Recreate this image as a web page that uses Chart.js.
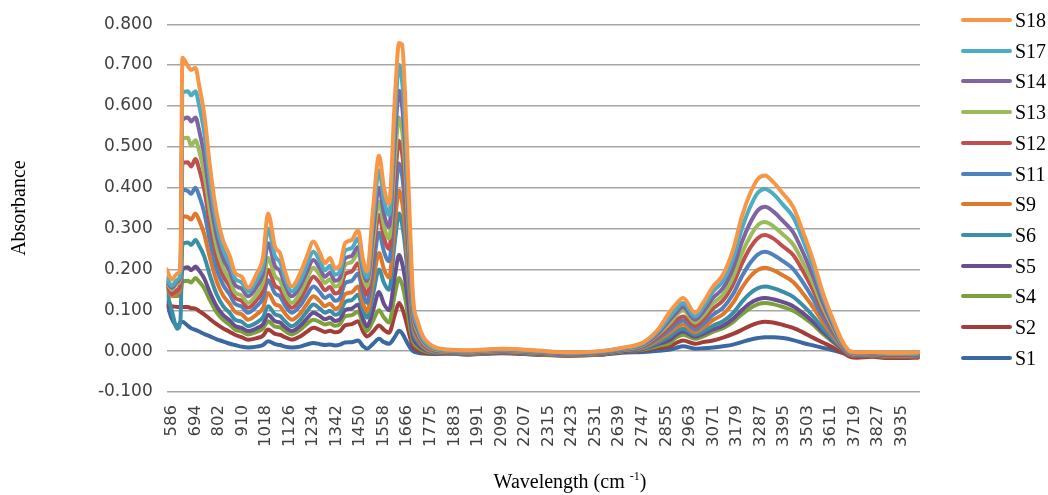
<!DOCTYPE html>
<html><head><meta charset="utf-8">
<script src="https://cdn.jsdelivr.net/npm/chart.js@4.4.1/dist/chart.umd.min.js"></script>
<style>
html,body{margin:0;padding:0;background:#fff;}
#wrap{position:relative;width:1048px;height:495px;overflow:hidden;}
#c{position:absolute;left:0;top:0;}
#xtitle{position:absolute;left:570px;top:469px;transform:translateX(-50%);font-family:"Liberation Serif";font-size:20px;color:#000;white-space:nowrap;}
#xtitle sup{font-size:12px;}
.ln{position:absolute;left:961px;width:51px;height:4px;border-radius:2px;}
.lt{position:absolute;left:1015px;font-family:"Liberation Serif";font-size:20px;line-height:20px;color:#000;}
</style></head>
<body><div id="wrap"><canvas id="c" width="1048" height="495"></canvas>
<div id="xtitle">Wavelength (cm <sup>-1</sup>)</div>
<div id="legend"></div></div>
<script>
const wavenumbers = [563,586,612,626,635,660,675,695,712,735,
 762,792,821,853,876,907,936,976,1005,1028,
 1060,1083,1106,1137,1175,1205,1236,1266,1289,1312,
 1335,1358,1381,1412,1441,1464,1482,1510,1537,1560,
 1583,1610,1629,1643,1657,1680,1693,1716,1739,1785,
 1849,1950,2100,2250,2400,2550,2650,2750,2820,2872,
 2900,2932,2987,3024,3069,3115,3161,3201,3239,3276,
 3308,3345,3391,3437,3482,3528,3574,3620,3666,3698,
 3730,3800,3870,3950,4010];
const xTickLabels = [586,694,802,910,1018,1126,1234,1342,1450,1558,1666,1775,1883,1991,2099,2207,2315,2423,2531,2639,2747,2855,2963,3071,3179,3287,3395,3503,3611,3719,3827,3935];
const yTicks = [-0.1,0,0.1,0.2,0.3,0.4,0.5,0.6,0.7,0.8];

const S18 = [0.200,0.175,0.190,0.205,0.718,0.698,0.688,0.693,0.650,0.580,
 0.450,0.337,0.272,0.232,0.192,0.182,0.155,0.190,0.230,0.337,
 0.255,0.240,0.195,0.158,0.190,0.230,0.268,0.240,0.215,0.228,
 0.203,0.210,0.264,0.272,0.296,0.223,0.195,0.350,0.478,0.400,
 0.360,0.620,0.754,0.750,0.620,0.295,0.133,0.070,0.036,0.012,
 0.004,0.002,0.006,0.002,-0.003,0.000,0.008,0.022,0.055,0.097,
 0.115,0.130,0.094,0.118,0.158,0.187,0.247,0.328,0.385,0.422,
 0.430,0.414,0.385,0.353,0.292,0.223,0.142,0.077,0.021,0.000,
 -0.003,-0.002,-0.004,-0.004,-0.003];
const S17 = [0.180,0.160,0.175,0.190,0.632,0.636,0.626,0.636,0.600,0.535,
 0.415,0.310,0.250,0.213,0.178,0.168,0.146,0.175,0.210,0.300,
 0.232,0.218,0.178,0.146,0.172,0.210,0.243,0.220,0.198,0.209,
 0.187,0.195,0.245,0.252,0.276,0.205,0.180,0.320,0.442,0.370,
 0.333,0.570,0.700,0.660,0.550,0.260,0.118,0.060,0.030,0.009,
 0.003,0.001,0.005,0.001,-0.004,-0.001,0.007,0.019,0.050,0.085,
 0.103,0.118,0.085,0.107,0.145,0.172,0.226,0.298,0.352,0.388,
 0.397,0.385,0.358,0.328,0.272,0.207,0.132,0.070,0.018,-0.002,
 -0.004,-0.003,-0.005,-0.005,-0.004];
const S14 = [0.175,0.155,0.170,0.185,0.565,0.572,0.562,0.572,0.540,0.480,
 0.375,0.283,0.228,0.194,0.162,0.153,0.134,0.158,0.190,0.264,
 0.208,0.196,0.162,0.134,0.158,0.193,0.223,0.202,0.182,0.192,
 0.172,0.180,0.226,0.233,0.255,0.196,0.172,0.290,0.400,0.335,
 0.304,0.520,0.637,0.600,0.500,0.235,0.105,0.052,0.026,0.007,
 0.002,0.000,0.004,0.000,-0.005,-0.002,0.006,0.017,0.045,0.077,
 0.094,0.108,0.077,0.096,0.130,0.154,0.202,0.266,0.313,0.345,
 0.353,0.342,0.318,0.291,0.242,0.184,0.118,0.063,0.016,-0.003,
 -0.005,-0.004,-0.006,-0.006,-0.005];
const S13 = [0.170,0.150,0.165,0.180,0.520,0.522,0.503,0.516,0.490,0.435,
 0.340,0.255,0.205,0.173,0.144,0.136,0.118,0.140,0.168,0.228,
 0.183,0.172,0.142,0.118,0.142,0.175,0.204,0.185,0.167,0.176,
 0.158,0.166,0.210,0.218,0.240,0.180,0.158,0.265,0.365,0.305,
 0.276,0.470,0.572,0.540,0.450,0.210,0.095,0.046,0.022,0.005,
 0.001,-0.001,0.003,-0.001,-0.005,-0.002,0.005,0.015,0.042,0.069,
 0.087,0.100,0.070,0.087,0.117,0.138,0.181,0.238,0.280,0.309,
 0.316,0.306,0.285,0.261,0.217,0.166,0.107,0.057,0.014,-0.004,
 -0.006,-0.005,-0.007,-0.007,-0.006];
const S12 = [0.167,0.140,0.150,0.170,0.460,0.462,0.452,0.470,0.445,0.395,
 0.310,0.232,0.186,0.157,0.131,0.123,0.106,0.125,0.148,0.199,
 0.160,0.152,0.127,0.106,0.127,0.156,0.182,0.166,0.149,0.157,
 0.141,0.148,0.188,0.195,0.215,0.160,0.138,0.240,0.333,0.277,
 0.250,0.420,0.515,0.485,0.400,0.185,0.083,0.040,0.018,0.003,
 0.000,-0.002,0.002,-0.002,-0.006,-0.003,0.004,0.013,0.037,0.061,
 0.075,0.085,0.061,0.077,0.104,0.124,0.163,0.213,0.252,0.277,
 0.284,0.276,0.256,0.235,0.196,0.150,0.097,0.052,0.012,-0.006,
 -0.008,-0.007,-0.010,-0.009,-0.008];
const S11 = [0.165,0.140,0.148,0.165,0.395,0.392,0.385,0.400,0.380,0.340,
 0.268,0.202,0.163,0.138,0.116,0.109,0.094,0.110,0.130,0.174,
 0.141,0.134,0.112,0.094,0.111,0.136,0.158,0.144,0.130,0.137,
 0.123,0.130,0.166,0.172,0.190,0.140,0.118,0.205,0.290,0.243,
 0.220,0.370,0.459,0.430,0.355,0.163,0.073,0.035,0.015,0.002,
 -0.001,-0.003,0.001,-0.003,-0.007,-0.004,0.003,0.011,0.032,0.053,
 0.066,0.075,0.053,0.066,0.089,0.106,0.139,0.182,0.215,0.237,
 0.243,0.236,0.220,0.201,0.168,0.128,0.083,0.044,0.010,-0.006,
 -0.008,-0.007,-0.010,-0.010,-0.009];
const S9 = [0.160,0.135,0.140,0.155,0.330,0.328,0.322,0.337,0.320,0.287,
 0.227,0.171,0.137,0.115,0.096,0.090,0.077,0.090,0.106,0.142,
 0.115,0.110,0.092,0.077,0.092,0.114,0.134,0.122,0.110,0.116,
 0.104,0.110,0.139,0.144,0.158,0.116,0.097,0.170,0.240,0.200,
 0.180,0.315,0.393,0.365,0.300,0.138,0.062,0.029,0.012,0.000,
 -0.002,-0.004,0.000,-0.004,-0.008,-0.005,0.002,0.009,0.027,0.045,
 0.057,0.065,0.046,0.057,0.076,0.090,0.118,0.154,0.182,0.199,
 0.204,0.198,0.185,0.169,0.141,0.108,0.070,0.037,0.008,-0.007,
 -0.009,-0.008,-0.011,-0.011,-0.010];
const S6 = [0.145,0.100,0.055,0.075,0.262,0.266,0.260,0.272,0.258,0.232,
 0.184,0.139,0.111,0.093,0.077,0.072,0.061,0.070,0.083,0.110,
 0.090,0.086,0.073,0.061,0.076,0.096,0.114,0.104,0.094,0.099,
 0.089,0.094,0.120,0.125,0.138,0.100,0.082,0.140,0.200,0.167,
 0.150,0.270,0.337,0.310,0.255,0.115,0.051,0.023,0.009,-0.002,
 -0.003,-0.005,-0.001,-0.005,-0.008,-0.006,0.001,0.007,0.022,0.036,
 0.048,0.055,0.040,0.048,0.062,0.073,0.093,0.120,0.141,0.154,
 0.158,0.154,0.145,0.133,0.112,0.086,0.056,0.030,0.006,-0.008,
 -0.010,-0.009,-0.012,-0.012,-0.011];
const S5 = [0.160,0.140,0.140,0.150,0.200,0.205,0.198,0.207,0.197,0.178,
 0.143,0.110,0.089,0.075,0.062,0.057,0.049,0.056,0.066,0.089,
 0.073,0.070,0.059,0.049,0.062,0.079,0.094,0.086,0.078,0.082,
 0.074,0.078,0.100,0.104,0.114,0.078,0.061,0.100,0.145,0.115,
 0.100,0.185,0.235,0.215,0.175,0.078,0.035,0.015,0.005,-0.003,
 -0.004,-0.006,-0.002,-0.006,-0.009,-0.007,0.000,0.006,0.018,0.028,
 0.040,0.048,0.035,0.042,0.053,0.062,0.079,0.100,0.117,0.127,
 0.130,0.127,0.120,0.110,0.093,0.072,0.047,0.025,0.004,-0.009,
 -0.011,-0.010,-0.013,-0.013,-0.012];
const S4 = [0.155,0.135,0.135,0.140,0.170,0.172,0.168,0.179,0.170,0.154,
 0.124,0.095,0.077,0.064,0.053,0.048,0.041,0.047,0.055,0.073,
 0.060,0.058,0.049,0.041,0.052,0.066,0.077,0.071,0.065,0.068,
 0.062,0.066,0.085,0.088,0.097,0.065,0.049,0.075,0.100,0.082,
 0.070,0.140,0.179,0.163,0.130,0.056,0.024,0.009,0.002,-0.004,
 -0.005,-0.007,-0.003,-0.007,-0.010,-0.008,-0.001,0.004,0.013,0.020,
 0.033,0.040,0.030,0.036,0.047,0.056,0.071,0.090,0.105,0.115,
 0.118,0.115,0.108,0.099,0.084,0.065,0.042,0.022,0.003,-0.010,
 -0.012,-0.011,-0.014,-0.014,-0.013];
const S2 = [0.110,0.110,0.108,0.108,0.108,0.108,0.105,0.104,0.098,0.090,
 0.078,0.066,0.056,0.047,0.040,0.034,0.028,0.032,0.038,0.053,
 0.042,0.040,0.034,0.028,0.036,0.047,0.057,0.052,0.047,0.050,
 0.046,0.049,0.063,0.066,0.073,0.048,0.036,0.048,0.063,0.052,
 0.045,0.090,0.118,0.105,0.082,0.033,0.012,0.002,-0.003,-0.006,
 -0.006,-0.008,-0.004,-0.008,-0.011,-0.009,-0.002,0.002,0.008,0.012,
 0.020,0.026,0.018,0.022,0.026,0.033,0.042,0.052,0.062,0.069,
 0.072,0.070,0.064,0.057,0.046,0.033,0.021,0.009,-0.004,-0.014,
 -0.016,-0.014,-0.017,-0.017,-0.016];
const S1 = [0.120,0.080,0.062,0.070,0.072,0.062,0.056,0.052,0.048,0.042,
 0.036,0.029,0.024,0.018,0.015,0.011,0.009,0.011,0.015,0.024,
 0.017,0.015,0.011,0.009,0.011,0.016,0.020,0.017,0.015,0.016,
 0.014,0.016,0.021,0.022,0.026,0.012,0.006,0.018,0.030,0.022,
 0.018,0.035,0.050,0.044,0.030,0.008,0.000,-0.004,-0.006,-0.007,
 -0.006,-0.008,-0.005,-0.008,-0.011,-0.009,-0.004,-0.002,0.001,0.004,
 0.008,0.012,0.006,0.007,0.009,0.012,0.016,0.022,0.028,0.032,
 0.034,0.034,0.032,0.027,0.020,0.014,0.008,0.002,-0.005,-0.010,
 -0.011,-0.010,-0.012,-0.012,-0.011];

const seriesNames = ['S18','S17','S14','S13','S12','S11','S9','S6','S5','S4','S2','S1'];
const seriesValues = [S18,S17,S14,S13,S12,S11,S9,S6,S5,S4,S2,S1];
const seriesColors = ['#F79646','#4BACC6','#8064A2','#9BBB59','#C0504D','#4F81BD','#E0782C','#3A8FA6','#684E8E','#7DA03F','#A33D3A','#3B68A0'];

const datasets = seriesNames.map((name, i) => ({
  label: name,
  data: wavenumbers.map((w, j) => ({x: w, y: seriesValues[i][j]})),
  borderColor: seriesColors[i],
  backgroundColor: seriesColors[i],
  borderWidth: 4,
  pointRadius: 0,
  cubicInterpolationMode: 'monotone',
  borderCapStyle: 'round',
  borderJoinStyle: 'round',
  fill: false
}));

new Chart(document.getElementById('c'), {
  type: 'line',
  data: {datasets},
  options: {
    responsive: false,
    animation: false,
    devicePixelRatio: 1,
    layout: {padding: {left: 0, right: 128, top: 22, bottom: 0}},
    plugins: {legend: {display: false}, tooltip: {enabled: false}},
    scales: {
      x: {
        type: 'linear', min: 563, max: 4019,
        afterBuildTicks: s => { s.ticks = xTickLabels.map(v => ({value: v})); },
        afterFit: s => { s.height = 103; },
        grid: {display: false},
        border: {display: false},
        ticks: {autoSkip: false, minRotation: 90, maxRotation: 90, padding: 5,
          color: '#404040', font: {family: 'DejaVu Sans', size: 16.5},
          callback: v => String(v)}
      },
      y: {
        min: -0.1, max: 0.8,
        afterBuildTicks: s => { s.ticks = yTicks.map(v => ({value: v})); },
        afterFit: s => { s.width = 166.7; },
        grid: {color: '#a6a6a6', lineWidth: 1.4, drawTicks: false},
        border: {display: false},
        ticks: {padding: 14, color: '#404040', font: {family: 'DejaVu Sans', size: 17},
          callback: v => (Math.round(v * 1000) / 1000).toFixed(3)},
        title: {display: true, text: 'Absorbance', color: '#000',
          font: {family: 'Liberation Serif', size: 20}, padding: {top: 8, bottom: 0}}
      }
    }
  }
});

const lg = document.getElementById('legend');
seriesNames.forEach((name, i) => {
  const cy = 20 + i * 30.7;
  const ln = document.createElement('div');
  ln.className = 'ln';
  ln.style.top = (cy - 2) + 'px';
  ln.style.background = seriesColors[i];
  lg.appendChild(ln);
  const t = document.createElement('div');
  t.className = 'lt';
  t.style.top = (cy - 10) + 'px';
  t.textContent = name;
  lg.appendChild(t);
});
</script></body></html>
